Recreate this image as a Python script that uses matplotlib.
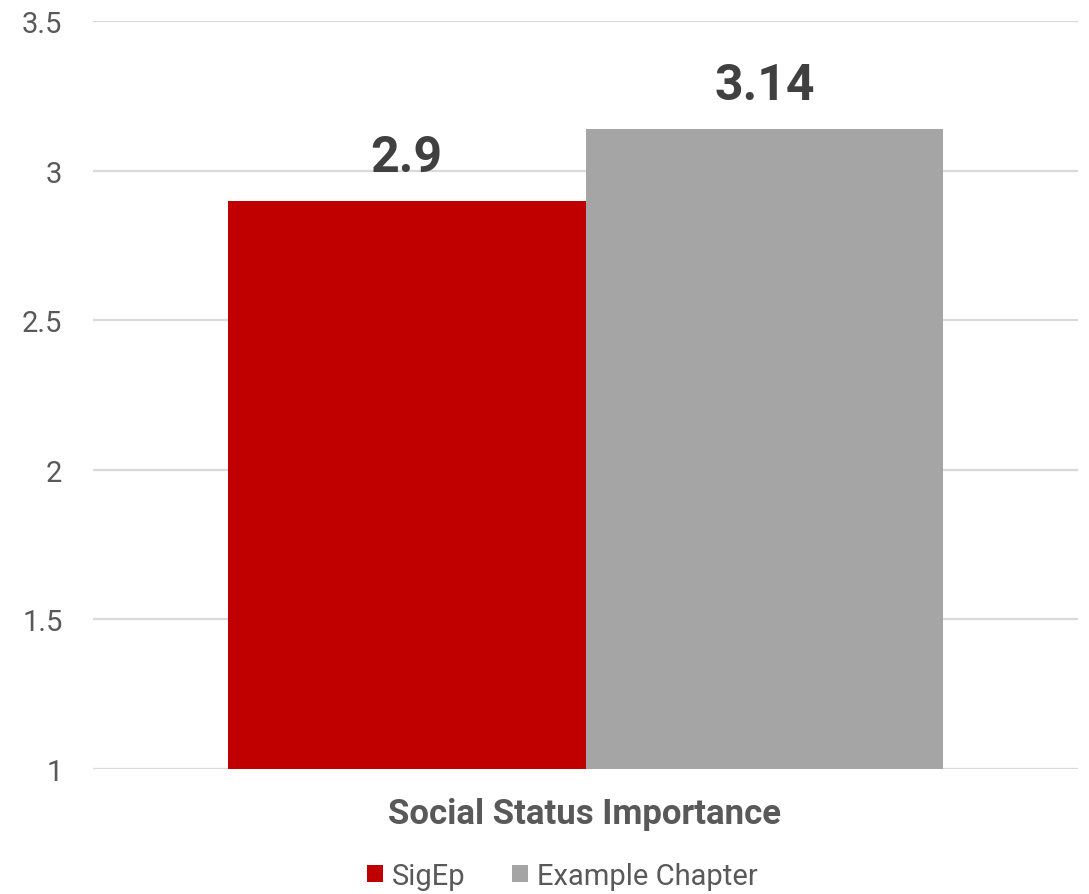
import matplotlib
matplotlib.use("Agg")
import matplotlib.pyplot as plt
from matplotlib.patches import Patch

plt.rcParams['font.family'] = ['Roboto', 'DejaVu Sans']

category = "Social Status Importance"
series_names = ["SigEp", "Example Chapter"]
series_values = [2.9, 3.14]
series_labels = ["2.9", "3.14"]
series_colors = ["#C00000", "#A5A5A5"]
y_ticks = [1, 1.5, 2, 2.5, 3, 3.5]
y_tick_labels = ["1", "1.5", "2", "2.5", "3", "3.5"]

fig = plt.figure(figsize=(10.89, 8.95), dpi=100)
ax = fig.add_axes([93 / 1089, 125 / 895, 985 / 1089, 748 / 895])

bar_w = 0.363
offsets = [-bar_w / 2, bar_w / 2]
for name, val, lab, col, off in zip(series_names, series_values, series_labels, series_colors, offsets):
    ax.bar(off, val - 1, bottom=1, width=bar_w, color=col, zorder=2, label=name)
    ax.annotate(lab, (off, val), xytext=(0, 20), textcoords="offset pixels",
                ha="center", va="bottom", fontsize=36, fontweight="bold", color="#404040")

ax.set_xlim(-0.5, 0.5)
ax.set_ylim(1, 3.5)
ax.set_yticks(y_ticks)
ax.set_yticklabels(y_tick_labels)
ax.tick_params(axis="y", length=0, pad=22, labelsize=21, labelcolor="#595959")
ax.set_xticks([])
for s in ax.spines.values():
    s.set_visible(False)
ax.grid(axis="y", color="#D9D9D9", linewidth=1.6, zorder=0)
ax.set_axisbelow(True)

fig.text(585 / 1089, 1 - 815 / 895, category, ha="center", va="center",
         fontsize=25, fontweight="bold", color="#595959")

handles = [Patch(facecolor=c, label=n) for n, c in zip(series_names, series_colors)]
fig.legend(handles=handles, loc="center", bbox_to_anchor=(562 / 1089, 1 - 877 / 895),
           ncol=2, frameon=False, fontsize=21, labelcolor="#595959",
           handlelength=0.55, handleheight=0.55, handletextpad=0.3, columnspacing=1.6)

fig.savefig("out.png", dpi=100, facecolor="white")
